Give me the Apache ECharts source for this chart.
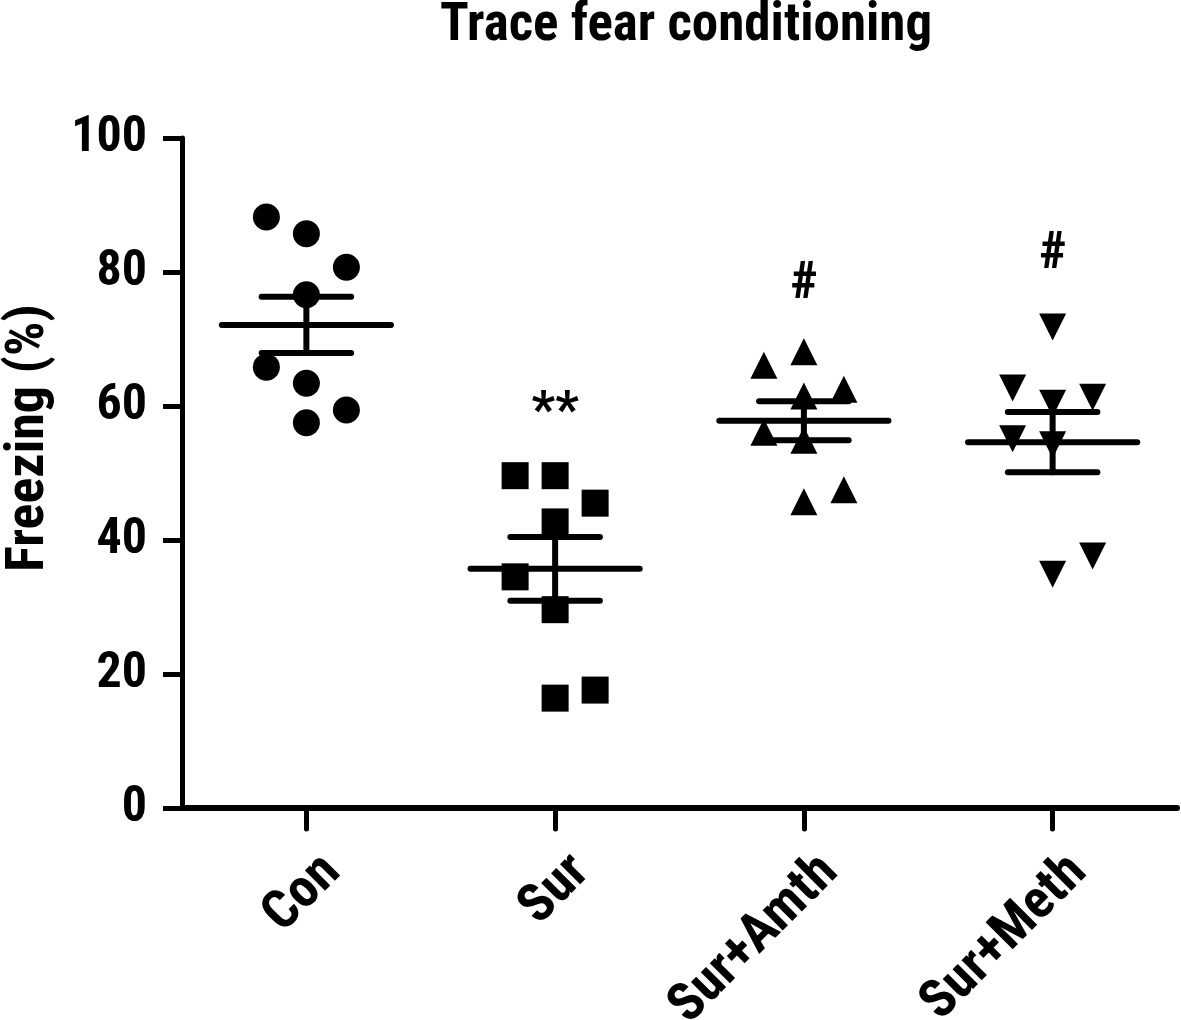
<!DOCTYPE html>
<html>
<head>
<meta charset="utf-8">
<script src="https://cdn.jsdelivr.net/npm/echarts@6/dist/echarts.min.js"></script>
<style>html,body{margin:0;padding:0;background:#fff}#c{width:1181px;height:1020px}</style>
</head>
<body>
<div id="c"></div>
<script>
// ---- data ----
const categories = ['Con', 'Sur', 'Sur+Amth', 'Sur+Meth'];
const yTicks = [0, 20, 40, 60, 80, 100];

const conValues  = [88.2, 85.7, 80.7, 76.6, 65.8, 63.4, 59.4, 57.5];
const conColumn  = [-1, 0, 1, 0, -1, 0, 1, 0];
const surValues  = [49.6, 49.6, 45.5, 42.7, 34.5, 29.6, 17.6, 16.4];
const surColumn  = [-1, 0, 1, 0, -1, 0, 1, 0];
const amthValues = [68.1, 66.1, 62.5, 61.5, 56.1, 54.9, 47.5, 45.7];
const amthColumn = [0, -1, 1, 0, -1, 0, 1, 0];
const methValues = [71.8, 62.7, 61.3, 60.4, 55.1, 54.2, 37.6, 34.9];
const methColumn = [0, -1, 1, 0, -1, 0, 1, 0];

const groupMeans = [72.1, 35.7, 57.8, 54.6];
const groupSEM   = [4.2, 4.75, 2.9, 4.5];

const annotTexts  = ['**', '#', '#'];
const annotGroups = [1, 2, 3];
const annotValues = [58.8, 78.0, 82.5];

// ---- chart ----
const FONT = "'Roboto Condensed', 'Liberation Sans Narrow', 'Arial Narrow', sans-serif";
const chart = echarts.init(document.getElementById('c'), null, {renderer: 'canvas'});

function pts(values, column, gi) {
  return values.map((v, i) => ({value: [gi, v], symbolOffset: [column[i] * 40, 0]}));
}

const symbols = ['circle', 'rect', 'triangle', 'triangle'];
const rotations = [0, 0, 0, 180];
const allValues = [conValues, surValues, amthValues, methValues];
const allCols = [conColumn, surColumn, amthColumn, methColumn];

const scatterSeries = allValues.map((vals, gi) => ({
  type: 'scatter',
  name: categories[gi],
  data: pts(vals, allCols[gi], gi),
  symbol: symbols[gi],
  symbolRotate: rotations[gi],
  symbolSize: 27,
  itemStyle: {color: '#000', opacity: 1},
  z: 3,
  silent: true
}));

const meanData = groupMeans.map((m, i) => [i, m, groupSEM[i]]);
const annotData = annotTexts.map((t, i) => [annotGroups[i], annotValues[i], i]);

const option = {
  animation: false,
  backgroundColor: '#fff',
  title: {
    text: 'Trace fear conditioning',
    left: 681, top: -5, textAlign: 'center',
    textStyle: {fontFamily: FONT, fontWeight: 'bold', fontSize: 53, color: '#000'}
  },
  grid: {left: 182, right: 4, top: 138, bottom: 212, containLabel: false, outerBoundsMode: 'none'},
  xAxis: {
    type: 'category',
    data: categories,
    boundaryGap: true,
    axisLine: {show: true, lineStyle: {color: '#000', width: 6}},
    axisTick: {show: true, alignWithLabel: true, length: 21, lineStyle: {color: '#000', width: 5, cap: 'round'}},
    axisLabel: {
      rotate: 45, margin: 30, color: '#000',
      fontFamily: FONT, fontWeight: 'bold', fontSize: 54,
      verticalAlign: 'top', padding: [10, 0, 0, 0], interval: 0
    },
    splitLine: {show: false}
  },
  yAxis: {
    type: 'value',
    min: 0, max: 100, interval: 20,
    name: 'Freezing (%)',
    nameLocation: 'middle', nameRotate: 90, nameGap: 126,
    nameTextStyle: {fontFamily: FONT, fontWeight: 'bold', fontSize: 54, color: '#000', padding: [0, 0, 0, 70]},
    axisLine: {show: true, lineStyle: {color: '#000', width: 5}},
    axisTick: {show: true, length: 19, lineStyle: {color: '#000', width: 5}},
    axisLabel: {
      margin: 35, color: '#000', fontFamily: FONT, fontWeight: 'bold', fontSize: 50,
      formatter: v => yTicks.indexOf(v) >= 0 ? String(v) : ''
    },
    splitLine: {show: false}
  },
  series: [
    ...scatterSeries,
    {
      type: 'custom',
      data: meanData,
      z: 4,
      silent: true,
      renderItem: function (params, api) {
        const gi = api.value(0), m = api.value(1), s = api.value(2);
        const c = api.coord([gi, m]);
        const top = api.coord([gi, m + s]);
        const bot = api.coord([gi, m - s]);
        const bw = api.size([1, 0])[0];
        const hw = bw * 0.34, cw = bw * 0.18;
        const st = {stroke: '#000', lineWidth: 6, lineCap: 'round'};
        return {
          type: 'group',
          children: [
            {type: 'line', shape: {x1: c[0] - hw, y1: c[1], x2: c[0] + hw, y2: c[1]}, style: st},
            {type: 'line', shape: {x1: c[0], y1: top[1], x2: c[0], y2: bot[1]}, style: st},
            {type: 'line', shape: {x1: c[0] - cw, y1: top[1], x2: c[0] + cw, y2: top[1]}, style: st},
            {type: 'line', shape: {x1: c[0] - cw, y1: bot[1], x2: c[0] + cw, y2: bot[1]}, style: st}
          ]
        };
      }
    },
    {
      type: 'custom',
      data: annotData,
      z: 5,
      silent: true,
      renderItem: function (params, api) {
        const p = api.coord([api.value(0), api.value(1)]);
        return {
          type: 'text',
          x: p[0], y: p[1],
          style: {
            text: annotTexts[api.value(2)],
            fill: '#000', opacity: 1,
            font: "bold 52px " + FONT,
            textAlign: 'center', textVerticalAlign: 'middle'
          }
        };
      }
    }
  ]
};
chart.setOption(option);
</script>
</body>
</html>
